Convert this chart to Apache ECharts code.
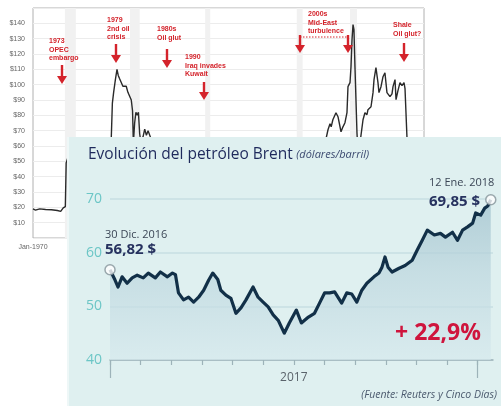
<!DOCTYPE html>
<html><head><meta charset="utf-8">
<script src="https://cdn.jsdelivr.net/npm/echarts@6/dist/echarts.min.js"></script>
<style>
html,body{margin:0;padding:0;background:#fff;width:501px;height:406px;overflow:hidden;}
#bg{position:absolute;left:0;top:0;width:501px;height:406px;}
#fg{position:absolute;left:67px;top:137px;width:434px;height:269px;}
</style></head><body>
<div id="bg"></div><div id="fg"></div>
<script>
// ---------- Background chart: historical oil price (US$/barrel, real) ----------
const anios = [1970.0,1970.3,1970.5,1970.8,1971.5,1972.2,1972.9,1973.3,1973.45,1973.6,1973.85,1973.95,1974.3,1975,1976,1977,1978,
  1979.0,1979.3,1979.45,1979.6,1979.8,1980.0,1980.15,1980.3,1980.5,1980.7,1980.9,1981.1,1981.3,1981.5,1981.7,1981.85,1981.95,
  1982.1,1982.25,1982.4,1982.55,1982.7,1982.85,1983.1,1983.3,1983.5,1983.7,1983.9,1984.1,1985,1986,1988,1990,1990.8,1992,1994,
  1996,1998.9,2000,2002,2003.5,2004.5,2005.12,2005.36,2005.5,2005.7,2006.07,2006.31,2006.67,2006.9,2007.14,2007.38,2007.5,
  2007.74,2007.86,2007.98,2008.1,2008.21,2008.33,2008.57,2008.8,2008.93,2009.29,2009.52,2009.76,2009.88,2010.24,2010.48,2010.6,
  2010.83,2011.07,2011.19,2011.43,2011.67,2011.9,2012.14,2012.26,2012.5,2012.74,2012.86,2013.1,2013.22,2013.45,2013.69,2013.93,
  2014.05,2014.17,2014.29,2014.52,2014.7,2015.0,2015.5,2016.0,2016.55];
const preciosHist = [19.0,18.2,19.2,19.0,18.6,18.4,17.9,17.4,17.8,19.6,20.5,49,55,52,54,53,50,
  58,62,88,95,103,110,106,104,105,99,100,99,95,96,90,83,62,
  75,82,80,82,68,62,66,71,67,70,69,64,58,30,32,35,55,34,28,
  32,18,40,35,40,55,70.6,74.5,72.5,77.1,81.7,79.1,69.3,72.5,75.2,81.7,98.7,
  101.3,111.8,129.4,139.2,135.9,111.8,68.6,45,62,77.1,81.7,80.4,83.7,85.6,94.8,103.3,
  111.1,101.3,94.8,98.7,105.2,107.8,94.8,96.0,92.2,94.0,98.7,103.3,90.2,96.1,101.3,99.3,
  99.3,101.3,97.4,66,55,50,45,33,40];
const recesiones = [[1973.8,1975.1],[1981.55,1982.7],[1990.5,1991.1],[2001.4,2002.1],[2007.74,2008.57]];
const hitos = ['1973\nOPEC\nembargo','1979\n2nd oil\ncrisis','1980s\nOil glut','1990\nIraq invades\nKuwait','2000s\nMid-East\nturbulence','Shale\nOil glut?'];

// ---------- Foreground chart: Brent ----------
const dias = [0,5,8,12,17,22,27,33,38,45,50,57,62,65,68,73,78,83,88,93,98,102,107,110,115,120,125,130,135,142,147,152,157,162,167,173,178,185,190,197,203,208,213,218,223,230,235,240,245,250,255,262,267,270,273,276,280,287,293,300,305,310,315,322,328,333,340,345,350,355,360,363,368,372,375,378];
const brent = [56.82,54.9,53.6,55.5,54.3,55.3,55.8,55.3,56.2,55.3,56.4,55.5,56.2,55.9,52.5,51.2,51.7,50.8,51.7,53.0,54.9,56.2,55.0,53.0,52.1,51.5,48.7,49.7,51.2,53.6,51.7,50.8,49.9,48.4,47.4,45.0,46.9,49.3,46.9,48.0,48.7,50.6,52.5,52.5,52.7,50.6,52.5,52.3,50.8,53.0,54.3,55.5,56.2,57.3,59.2,57.3,56.4,57.1,57.6,58.6,60.5,62.3,64.2,63.3,63.6,62.9,63.8,62.3,64.2,64.8,65.5,67.4,67.0,68.3,68.7,69.85];
const etiquetaAnio = '2017';
const inicio = {fecha:'30 Dic. 2016', valor:'56,82 $'};
const fin = {fecha:'12 Ene. 2018', valor:'69,85 $'};
const variacion = '+ 22,9%';
const titulo = 'Evolución del petróleo Brent';
const unidad = '(dólares/barril)';
const fuente = '(Fuente: Reuters y Cinco Días)';

const RED = '#d4232b';
const MES = 365/12;

// ===== background =====
const bg = echarts.init(document.getElementById('bg'), null, {renderer:'canvas'});
function arrow(x, y1, y2){
  return {type:'group', z:100, children:[
    {type:'line', z:100, shape:{x1:x,y1:y1,x2:x,y2:y2-6}, style:{stroke:RED,lineWidth:2.4}},
    {type:'polygon', z:100, shape:{points:[[x-5,y2-8],[x+5,y2-8],[x,y2]]}, style:{fill:RED}}
  ]};
}
function note(t, x, y){
  return {type:'text', z:100, x:x, y:y, style:{text:t, font:'bold 7px "Liberation Sans"', fill:RED, lineHeight:8.5, align:'left', verticalAlign:'top'}};
}
bg.setOption({
  animation:false,
  grid:{left:33, top:8, right:77, bottom:168, show:true, borderColor:'#b0b0b0', borderWidth:1},
  xAxis:{type:'value', min:1970, max:2016.55, interval:5,
    axisLine:{show:false}, axisTick:{show:false}, splitLine:{show:false},
    axisLabel:{fontSize:7, color:'#666', fontFamily:'Liberation Sans', margin:6,
      formatter:v => v===1970 ? 'Jan-1970' : ''}},
  yAxis:{type:'value', min:0, max:150, interval:10,
    axisLine:{show:false}, axisTick:{show:false},
    splitLine:{lineStyle:{color:'#ececec', width:1}},
    axisLabel:{fontSize:7, color:'#666', fontFamily:'Liberation Sans', margin:8,
      formatter:v => (v===0||v===150) ? '' : '$'+v}},
  series:[{type:'line', data:anios.map((a,i)=>[a,preciosHist[i]]), symbol:'none', z:3,
    lineStyle:{color:'#2a2a2a', width:1.4},
    markArea:{silent:true, z:1, itemStyle:{color:'#f1f1f1'}, data:recesiones.map(r=>[{xAxis:r[0]},{xAxis:r[1]}])}}],
  graphic:[
    note(hitos[0],49,37), arrow(62,65,84),
    note(hitos[1],107,16), arrow(116,44,63),
    note(hitos[2],157,25), arrow(167,49,68),
    note(hitos[3],185,53), arrow(204,82,100),
    note(hitos[4],308,10), arrow(300,35,53), arrow(348,35,53),
    {type:'line', z:100, shape:{x1:300,y1:37,x2:348,y2:37}, style:{stroke:RED,lineWidth:1,lineDash:[1.5,1.5]}},
    note(hitos[5],393,21), arrow(404,43,62)
  ]
});

// ===== foreground =====
const fg = echarts.init(document.getElementById('fg'), null, {renderer:'canvas'});
const FONT = 'Open Sans';
const serie = dias.map((d,i)=>[d/MES, brent[i]]);
const n = serie.length-1;
function txt(t, x, y, extra){
  return {type:'text', z:100, x:x, y:y, style:Object.assign({text:t, fontFamily:FONT, verticalAlign:'middle', align:'left'}, extra)};
}
fg.setOption({
  animation:false,
  backgroundColor:'#dff0f0',
  grid:{left:43, top:62, right:8, bottom:46},
  xAxis:[{type:'value', min:0, max:12.5, interval:1,
    axisLine:{lineStyle:{color:'#9db3b9', width:1.5}},
    axisTick:{customValues:[0,1,2,3,4,5,6,7,8,9,10,11,12], length:5, lineStyle:{color:'#9db3b9', width:1.2}},
    axisLabel:{customValues:[6], formatter:()=>etiquetaAnio, color:'#5a636b', fontSize:12, fontFamily:FONT, margin:12},
    splitLine:{show:false}},
   {type:'value', min:0, max:12.5, position:'bottom',
    axisLine:{show:false},
    axisTick:{customValues:[0,12], length:18, lineStyle:{color:'#9db3b9', width:1.2}},
    axisLabel:{show:false}, splitLine:{show:false}}],
  yAxis:{type:'value', min:40, max:70, interval:10,
    axisLine:{show:false}, axisTick:{show:false},
    splitLine:{lineStyle:{color:'#c7dfe3', width:1.5}},
    axisLabel:{color:'#6cc6c6', fontSize:14, fontFamily:FONT, margin:8}},
  series:[
    {type:'line', data:serie, symbol:'none', z:3,
     lineStyle:{color:'#123048', width:3.2, join:'round'},
     areaStyle:{origin:'start', color:new echarts.graphic.LinearGradient(0,0,0,1,[
       {offset:0,color:'#9dbfcb'},{offset:0.45,color:'#bcd6de'},{offset:1,color:'#d6e9ed'}])}},
    {type:'scatter', data:[serie[0], serie[n]], symbol:'circle', symbolSize:10, z:4,
     itemStyle:{color:'#ffffff', borderColor:'#84939a', borderWidth:1.5}}
  ],
  graphic:[
    {type:'text', z:100, x:21, y:18, style:{rich:{
        a:{fontFamily:FONT, fontSize:15.5, fontWeight:500, fill:'#1f2a5c'},
        b:{fontFamily:FONT, fontSize:11, fontStyle:'italic', fill:'#3c4a70'}},
      text:'{a|'+titulo+'} {b|'+unidad+'}', verticalAlign:'middle', align:'left'}},
    txt(inicio.fecha, 38, 98, {fontSize:11, fill:'#3b4656'}),
    txt(inicio.valor, 38, 113, {fontSize:15, fontWeight:700, fill:'#27325f'}),
    txt(fin.fecha, 362, 46, {fontSize:11, fill:'#3b4656'}),
    txt(fin.valor, 362, 65, {fontSize:15, fontWeight:700, fill:'#27325f'}),
    txt(variacion, 328, 196, {fontSize:23, fontWeight:700, fill:'#cf153d'}),
    txt(fuente, 430, 258, {fontSize:10.5, fontStyle:'italic', fill:'#4b5a6e', align:'right'}),
    {type:'rect', z:100, shape:{x:0,y:0,width:2,height:269}, style:{fill:'#eef7f7'}}
  ]
});
</script>
</body></html>
